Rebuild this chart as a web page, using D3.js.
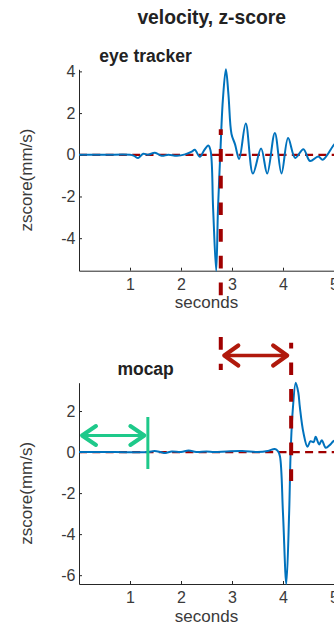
<!DOCTYPE html>
<html>
<head>
<meta charset="utf-8">
<script src="https://cdn.jsdelivr.net/npm/d3@7"></script>
<style>
html,body{margin:0;padding:0;background:#fff;}
svg{display:block;font-family:"Liberation Sans",Arial,Helvetica,sans-serif;}
</style>
</head>
<body>
<svg id="chart" width="334" height="628"></svg>
<script>
// ---- data ----
const mainTitle = "velocity, z-score";
const panelTitles = ["eye tracker", "mocap"];
const xLabel = "seconds";
const yLabel = "zscore(mm/s)";
const xTicks = [1, 2, 3, 4, 5];
const yTicksEye = [-4, -2, 0, 2, 4];
const yTicksMocap = [-6, -4, -2, 0, 2];

const eyeTime = [0, 0.5, 1.0, 1.08, 1.16, 1.26, 1.35, 1.49, 1.62, 1.75, 1.92, 2.08, 2.21, 2.27, 2.37, 2.45, 2.535, 2.58, 2.63, 2.69, 2.725, 2.77, 2.82, 2.88, 2.93, 2.99, 3.06, 3.14, 3.27, 3.41, 3.57, 3.69, 3.84, 3.97, 4.10, 4.24, 4.40, 4.53, 4.69, 4.78, 4.99, 5.05];
const eyeZ    = [0, 0, 0, -0.05, -0.16, 0.05, 0.0, 0.1, -0.05, 0.0, -0.05, 0.02, 0.15, 0.24, -0.1, 0.2, 0.45, 0.2, -2.6, -5.56, -2.6, 0, 2.6, 4.1, 2.9, 1.0, 0.5, -0.2, 1.5, -0.9, 0.3, -0.9, 1.05, -0.9, 0.8, -0.15, 0.27, -0.3, -0.08, -0.24, 0.45, 0.6];

const mocapTime = [0, 0.7, 1.35, 1.48, 1.6, 1.69, 1.82, 2.0, 2.15, 2.3, 2.5, 2.65, 2.9, 3.2, 3.5, 3.7, 3.84, 3.9, 3.94, 4.0, 4.065, 4.12, 4.15, 4.19, 4.25, 4.3, 4.33, 4.40, 4.48, 4.54, 4.6, 4.64, 4.71, 4.76, 4.84, 4.92, 4.99, 5.05];
const mocapZ    = [0, 0, 0, 0.05, 0.0, -0.05, 0.03, 0.0, 0.08, 0.0, 0.03, 0.0, 0.03, 0.05, 0.0, 0.05, 0.15, 0.05, -0.2, -3.0, -6.43, -3.0, 0, 2.0, 3.38, 2.9, 2.2, 0.95, 0.26, 0.53, 0.48, 0.74, 0.37, 0.58, 0.21, 0.35, 0.53, 0.6];

const yDomainEye = [-5.56, 4.1];
const yDomainMocap = [-6.43, 3.38];

// annotation times (seconds)
const eyeOnset = 2.78;
const mocapOnset = 4.16;
const baselineEnd = 1.35;

// ---- layout ----
const svg = d3.select("#chart");
const FONT = "\"Liberation Sans\",Arial,Helvetica,sans-serif";
const axisColor = "#262626";
const tickTextColor = "#3a3a3a";
const blue = "#0072BD";
const darkRed = "#a00000";
const arrowRed = "#b0190c";
const green = "#1ec98a";

const x = d3.scaleLinear().domain([0, 5]).range([79, 334]);

const panels = [
  {title: panelTitles[0], t: eyeTime, z: eyeZ, dom: yDomainEye, ticks: yTicksEye, top: 69.3, bottom: 270.7, titleY: 62},
  {title: panelTitles[1], t: mocapTime, z: mocapZ, dom: yDomainMocap, ticks: yTicksMocap, top: 382.7, bottom: 584, titleY: 375}
];

svg.append("rect").attr("width", 334).attr("height", 628).attr("fill", "#fff");

svg.append("text").attr("x", 211.7).attr("y", 24).attr("text-anchor", "middle")
  .attr("font-size", 19.3).attr("font-weight", "bold").attr("fill", "#222").text(mainTitle);

const fmt = d => String(d);

panels.forEach((p, i) => {
  const y = d3.scaleLinear().domain(p.dom).range([p.bottom, p.top]);
  const g = svg.append("g");

  // zero reference dashed line
  g.append("line").attr("x1", x(0)).attr("x2", x(5.2)).attr("y1", y(0)).attr("y2", y(0))
    .attr("stroke", darkRed).attr("stroke-width", 2.2).attr("stroke-dasharray", "8,5.3");

  // axes
  const ya = d3.axisLeft(y).tickValues(p.ticks).tickSizeInner(-3).tickSizeOuter(0).tickPadding(3.5).tickFormat(fmt);
  const ga = g.append("g").attr("transform", `translate(${x(0)},0)`).call(ya);
  const xa = d3.axisBottom(x).tickValues(xTicks).tickSizeInner(-3).tickSizeOuter(0).tickPadding(8).tickFormat(fmt);
  const gx = g.append("g").attr("transform", `translate(0,${p.bottom})`).call(xa);
  [ga, gx].forEach(a => {
    a.selectAll("path,line").attr("stroke", axisColor).attr("stroke-width", 1);
    a.selectAll("text").attr("fill", tickTextColor).attr("font-size", 16).attr("font-family", FONT);
  });

  // data line
  const line = d3.line().x((d, k) => x(p.t[k])).y((d, k) => y(p.z[k])).curve(d3.curveCatmullRom.alpha(0.5));
  g.append("path").datum(p.z).attr("d", line).attr("fill", "none")
    .attr("stroke", blue).attr("stroke-width", 2).attr("stroke-linejoin", "round");

  // titles and labels
  svg.append("text").attr("x", 145.6).attr("y", p.titleY).attr("text-anchor", "middle")
    .attr("font-size", 17.5).attr("font-weight", "bold").attr("fill", "#222").text(p.title);
  svg.append("text").attr("x", 206.5).attr("y", p.bottom + 37.6).attr("text-anchor", "middle")
    .attr("font-size", 17).attr("fill", tickTextColor).text(xLabel);
  const cy = (p.top + p.bottom) / 2 + 10;
  svg.append("text").attr("transform", `translate(32,${cy}) rotate(-90)`).attr("text-anchor", "middle")
    .attr("font-size", 17).attr("fill", tickTextColor).text(yLabel);
});

// ---- annotations ----
function vdash(t, y1, y2, offset) {
  svg.append("line").attr("x1", x(t)).attr("x2", x(t)).attr("y1", y1).attr("y2", y2)
    .attr("stroke", darkRed).attr("stroke-width", 4).attr("stroke-dasharray", "12.7,14")
    .attr("stroke-dashoffset", offset);
}
vdash(eyeOnset, 129.3, 304, 7);
vdash(eyeOnset, 337, 370, 0);
vdash(mocapOnset, 342.7, 481, 7);

function dblArrow(x1, x2, yy, color, hw, hd, sw) {
  const g = svg.append("g").attr("fill", "none").attr("stroke", color)
    .attr("stroke-linecap", "round").attr("stroke-linejoin", "round");
  g.append("line").attr("x1", x1 + 2).attr("x2", x2 - 2).attr("y1", yy).attr("y2", yy).attr("stroke-width", sw - 0.8);
  g.append("path").attr("d", `M${x1 + hd},${yy - hw}L${x1},${yy}L${x1 + hd},${yy + hw}`).attr("stroke-width", sw);
  g.append("path").attr("d", `M${x2 - hd},${yy - hw}L${x2},${yy}L${x2 - hd},${yy + hw}`).attr("stroke-width", sw);
}
dblArrow(x(eyeOnset) + 3.5, x(mocapOnset) - 4, 355.5, arrowRed, 10, 14, 4.2);
dblArrow(x(0) + 3, x(baselineEnd) - 3.5, 435.5, green, 9.5, 14, 4);

svg.append("line").attr("x1", x(baselineEnd)).attr("x2", x(baselineEnd)).attr("y1", 417).attr("y2", 469)
  .attr("stroke", green).attr("stroke-width", 3);
</script>
</body>
</html>
